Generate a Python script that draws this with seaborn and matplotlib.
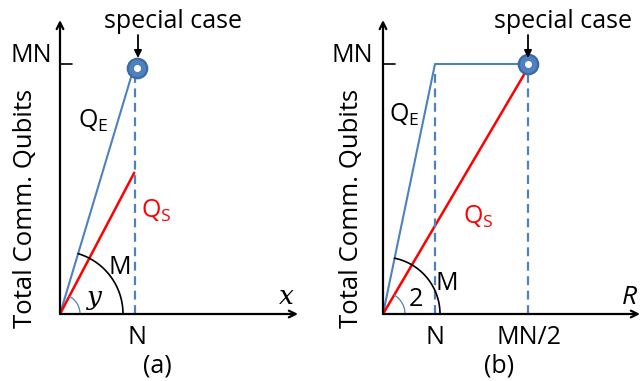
import numpy as np
import matplotlib
matplotlib.use("Agg")
import matplotlib.pyplot as plt
import seaborn as sns

sns.set_theme(style="white")
plt.rcParams['font.family'] = ['Open Sans', 'DejaVu Sans']
plt.rcParams['text.color'] = 'black'

BLUE = "#4F81BD"
RED = "#FF0000"

# panel (a): units N = 1 on x, MN = 1 on y
a_qe_x = [0, 1.0]
a_qe_y = [0, 1.0]
a_qs_x = [0, 0.99]
a_qs_y = [0, 0.565]
a_special = (1.02, 0.985)

# panel (b)
b_n = 1.0
b_half = 2.79          # MN/2 in units of N
b_qe_x = [0, b_n, b_half]
b_qe_y = [0, 1.0, 1.0]
b_qs_x = [0, b_half]
b_qs_y = [0, 0.985]
b_special = (b_half, 1.0)

W, H = 641, 381
PX_Y = 250
FS = 18
fig = plt.figure(figsize=(W / 100, H / 100), dpi=100)


def make_ax(left_px, origin_y_px, right_px, top_px, px_x):
    ax = fig.add_axes([left_px / W, (H - origin_y_px) / H,
                       (right_px - left_px) / W, (origin_y_px - top_px) / H])
    ax.set_xlim(0, (right_px - left_px) / px_x)
    ax.set_ylim(0, (origin_y_px - top_px) / PX_Y)
    ax.axis("off")
    ax.px = (left_px, origin_y_px, px_x)
    xmax = ax.get_xlim()[1]
    ymax = ax.get_ylim()[1]
    arr = dict(arrowstyle="->", lw=1.6, color="black", mutation_scale=12,
               shrinkA=0, shrinkB=0)
    ax.annotate("", xy=(xmax, 0), xytext=(0, 0), arrowprops=arr,
                annotation_clip=False)
    ax.annotate("", xy=(0, ymax), xytext=(0, 0), arrowprops=arr,
                annotation_clip=False)
    # MN tick
    ax.plot([0, 12 / px_x], [1, 1], color="black", lw=1.2, clip_on=False)
    return ax


def txt(ax, px, py, s, **kw):
    # place text by figure pixel position
    left, oy, px_x = ax.px
    kw.setdefault("fontsize", FS)
    kw.setdefault("ha", "center")
    kw.setdefault("va", "center")
    ax.text((px - left) / px_x, (oy - py) / PX_Y, s, **kw)


def arrow_down(ax, px, y0, y1):
    left, oy, px_x = ax.px
    x = (px - left) / px_x
    ax.annotate("", xy=(x, (oy - y1) / PX_Y), xytext=(x, (oy - y0) / PX_Y),
                annotation_clip=False,
                arrowprops=dict(arrowstyle="-|>", color="black", lw=1.3,
                                mutation_scale=11, shrinkA=0, shrinkB=0))


def arc(ax, r_px, end_deg, **kw):
    px_x = ax.px[2]
    t = np.radians(np.linspace(0, end_deg, 60))
    ax.plot(r_px * np.cos(t) / px_x, r_px * np.sin(t) / PX_Y, **kw)


def ang(ax, x, y):
    return np.degrees(np.arctan2(y * PX_Y, x * ax.px[2]))


def special(ax, pt):
    ax.plot(*pt, "o", ms=14, mfc=BLUE, mec="#3A68A8", mew=1.6)
    ax.plot(*pt, "o", ms=4, mfc="white", mec="white")


# ---------------- (a)
ax1 = make_ax(60, 314, 298, 20, 75)
sns.lineplot(x=a_qe_x, y=a_qe_y, ax=ax1, color=BLUE, lw=1.5, sort=False)
sns.lineplot(x=a_qs_x, y=a_qs_y, ax=ax1, color=RED, lw=1.8, sort=False)
ax1.plot([1, 1], [0, 0.97], ls="--", color=BLUE, lw=1.6, dashes=(4, 2.5))
special(ax1, a_special)
arc(ax1, 63, ang(ax1, a_qe_x[1], a_qe_y[1]), color="black", lw=1.2)
arc(ax1, 20, ang(ax1, a_qs_x[1], a_qs_y[1]), color=BLUE, lw=0.9)
txt(ax1, 31, 56, "MN")
txt(ax1, 26, 208, "Total Comm. Qubits", rotation=90, fontsize=18.5)
txt(ax1, 93, 121, r"Q$_\mathregular{E}$")
txt(ax1, 156, 211, r"Q$_\mathregular{S}$", color=RED)
txt(ax1, 120, 268, "M")
txt(ax1, 94, 297, "y", fontsize=19, family="DejaVu Serif", style="italic")
txt(ax1, 286, 296, "x", fontsize=19, family="DejaVu Serif", style="italic")
txt(ax1, 137, 337, "N")
txt(ax1, 157, 366, "(a)")
txt(ax1, 173, 22, "special case")
arrow_down(ax1, 138, 35, 58)

# ---------------- (b)
ax2 = make_ax(383, 314, 640, 20, 52)
sns.lineplot(x=b_qe_x, y=b_qe_y, ax=ax2, color=BLUE, lw=1.5, sort=False)
sns.lineplot(x=b_qs_x, y=b_qs_y, ax=ax2, color=RED, lw=1.8, sort=False)
for xv in [b_n, b_half]:
    ax2.plot([xv, xv], [0, 0.97], ls="--", color=BLUE, lw=1.6, dashes=(4, 2.5))
special(ax2, b_special)
arc(ax2, 57, ang(ax2, b_qe_x[1], b_qe_y[1]), color="black", lw=1.2)
arc(ax2, 22, ang(ax2, b_qs_x[1], b_qs_y[1]), color=BLUE, lw=0.9)
txt(ax2, 352, 56, "MN")
txt(ax2, 351, 208, "Total Comm. Qubits", rotation=90, fontsize=18.5)
txt(ax2, 404, 115, r"Q$_\mathregular{E}$")
txt(ax2, 478, 217, r"Q$_\mathregular{S}$", color=RED)
txt(ax2, 447, 283, "M")
txt(ax2, 416, 300, "2")
txt(ax2, 629, 298, "R", fontsize=19, style="italic")
txt(ax2, 435, 337, "N")
txt(ax2, 529, 337, "MN/2")
txt(ax2, 499, 366, "(b)")
txt(ax2, 563, 22, "special case")
arrow_down(ax2, 528, 35, 58)

fig.savefig("out.png", dpi=100, facecolor="white")
